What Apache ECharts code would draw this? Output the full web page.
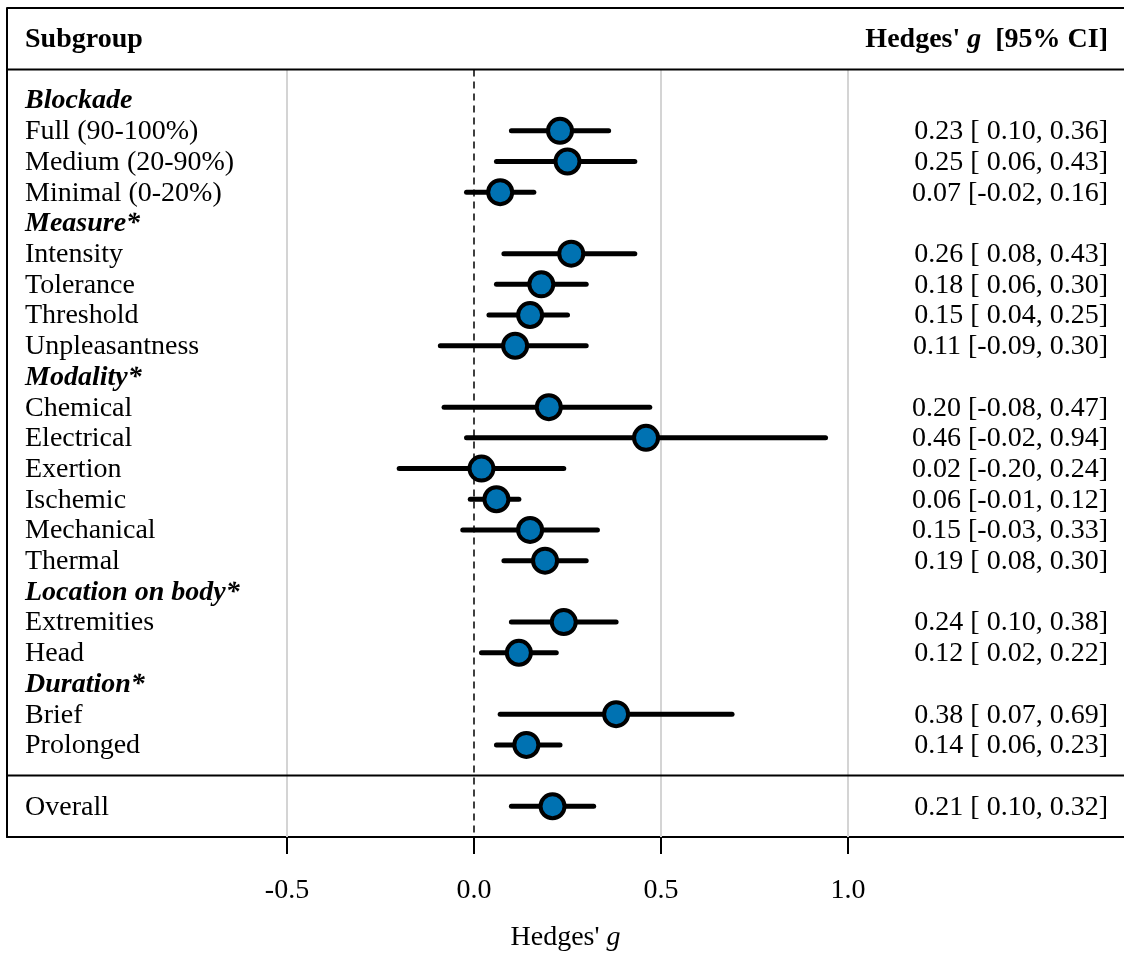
<!DOCTYPE html>
<html>
<head>
<meta charset="utf-8">
<script src="https://cdn.jsdelivr.net/npm/echarts@6/dist/echarts.min.js"></script>
<style>
  html, body { margin: 0; padding: 0; background: #fff; }
  #chart { width: 1124px; height: 954px; }
</style>
</head>
<body>
<div id="chart"></div>
<script>
// subgroup headings and how many rows sit under each
const headings = ["Blockade", "Measure*", "Modality*", "Location on body*", "Duration*"];
const groupSizes = [3, 4, 6, 2, 2];

const subgroups = [
  "Full (90-100%)", "Medium (20-90%)", "Minimal (0-20%)",
  "Intensity", "Tolerance", "Threshold", "Unpleasantness",
  "Chemical", "Electrical", "Exertion", "Ischemic", "Mechanical", "Thermal",
  "Extremities", "Head",
  "Brief", "Prolonged"
];
const estimates = [0.23, 0.25, 0.07, 0.26, 0.18, 0.15, 0.11, 0.20, 0.46, 0.02, 0.06, 0.15, 0.19, 0.24, 0.12, 0.38, 0.14];
const ciLower   = [0.10, 0.06, -0.02, 0.08, 0.06, 0.04, -0.09, -0.08, -0.02, -0.20, -0.01, -0.03, 0.08, 0.10, 0.02, 0.07, 0.06];
const ciUpper   = [0.36, 0.43, 0.16, 0.43, 0.30, 0.25, 0.30, 0.47, 0.94, 0.24, 0.12, 0.33, 0.30, 0.38, 0.22, 0.69, 0.23];

const overallLabel = "Overall";
const overallEstimate = 0.21;
const overallLower = 0.10;
const overallUpper = 0.32;

const xTicks = [-0.5, 0.0, 0.5, 1.0];
const gridValues = [-0.5, 0.5, 1.0];

const FONT = '"Liberation Serif", "Times New Roman", serif';
const FS = 28;
const xMin = (7 - 474) / 374;
const xMax = (1124 - 474) / 374;

function fmtCI(e, lo, hi) {
  const f = (v) => (v >= 0 ? " " : "") + v.toFixed(2);
  return e.toFixed(2) + " [" + f(lo) + ", " + hi.toFixed(2) + "]";
}

// lay out rows: heading, then its subgroups
const textRows = [];   // [row, left text, right text, kind]
const ciRows = [];     // [est, row, lo, hi]
let row = 0;
let k = 0;
headings.forEach((h, gi) => {
  textRows.push([row, h, "", "head"]);
  row++;
  for (let j = 0; j < groupSizes[gi]; j++, k++) {
    textRows.push([row, subgroups[k], fmtCI(estimates[k], ciLower[k], ciUpper[k]), "item"]);
    ciRows.push([estimates[k], row, ciLower[k], ciUpper[k]]);
    row++;
  }
});
const sepRow = row;          // line between subgroups and overall
const overallRow = row + 1;
textRows.push([overallRow, overallLabel, fmtCI(overallEstimate, overallLower, overallUpper), "item"]);
ciRows.push([overallEstimate, overallRow, overallLower, overallUpper]);
textRows.push([-2, "Subgroup", "{b|Hedges' }{bi|g}{b|  [95% CI]}", "header"]);

const chart = echarts.init(document.getElementById("chart"));

const option = {
  animation: false,
  backgroundColor: "#fff",
  grid: { left: 7, right: 0, top: 8, bottom: 117, outerBoundsMode: "none" },
  xAxis: {
    type: "value",
    min: xMin,
    max: xMax,
    axisLine: { show: true, onZero: false, lineStyle: { color: "#000", width: 2 } },
    axisTick: { show: true, customValues: xTicks, length: 17, lineStyle: { color: "#000", width: 2 } },
    axisLabel: {
      show: true,
      customValues: xTicks,
      formatter: (v) => v.toFixed(1),
      margin: 40,
      color: "#000",
      fontFamily: FONT,
      fontSize: FS
    },
    splitLine: { show: false },
    name: "{r|Hedges' }{i|g}",
    nameLocation: "middle",
    nameGap: 87,
    nameTextStyle: {
      rich: {
        r: { fontFamily: FONT, fontSize: FS, color: "#000" },
        i: { fontFamily: FONT, fontSize: FS, fontStyle: "italic", color: "#000" }
      }
    }
  },
  yAxis: {
    type: "value",
    inverse: true,
    min: -3,
    max: 24,
    axisLine: { show: true, onZero: false, lineStyle: { color: "#000", width: 2 } },
    axisTick: { show: false },
    axisLabel: { show: false },
    splitLine: { show: false }
  },
  series: [
    {
      // vertical reference lines
      type: "custom",
      z: 1,
      silent: true,
      data: gridValues.map((v) => [v, 0]).concat([[0, 1]]),
      renderItem: (params, api) => {
        const v = api.value(0);
        const dashed = api.value(1) === 1;
        const p1 = api.coord([v, -1]);
        const p2 = api.coord([v, 24]);
        return {
          type: "line",
          shape: { x1: p1[0], y1: p1[1], x2: p2[0], y2: p2[1] },
          style: dashed
            ? { stroke: "#000", lineWidth: 1.5, lineDash: [7, 5] }
            : { stroke: "#d4d4d4", lineWidth: 2 }
        };
      }
    },
    {
      // horizontal frame lines
      type: "custom",
      z: 2,
      silent: true,
      data: [[0, -3], [0, -1], [0, sepRow]],
      renderItem: (params, api) => {
        const r = api.value(1);
        const p1 = api.coord([xMin, r]);
        const p2 = api.coord([xMax, r]);
        return {
          type: "line",
          shape: { x1: p1[0], y1: p1[1], x2: p2[0], y2: p2[1] },
          style: { stroke: "#000", lineWidth: 2 }
        };
      }
    },
    {
      // confidence intervals
      type: "custom",
      z: 3,
      silent: true,
      data: ciRows,
      renderItem: (params, api) => {
        const r = api.value(1);
        const p1 = api.coord([api.value(2), r]);
        const p2 = api.coord([api.value(3), r]);
        return {
          type: "line",
          shape: { x1: p1[0], y1: p1[1], x2: p2[0], y2: p2[1] },
          style: { stroke: "#000", lineWidth: 5, lineCap: "round" }
        };
      }
    },
    {
      type: "scatter",
      z: 4,
      silent: true,
      symbol: "circle",
      symbolSize: 24,
      data: ciRows.map((d) => [d[0], d[1]]),
      itemStyle: { color: "#0072B2", borderColor: "#000", borderWidth: 4, opacity: 1 }
    },
    {
      // row labels and estimates
      type: "custom",
      z: 5,
      silent: true,
      data: textRows.map((t) => [0, t[0]]),
      renderItem: (params, api) => {
        const t = textRows[params.dataIndex];
        const y = api.coord([0, t[0]])[1] + 1;
        const xl = api.coord([xMin, t[0]])[0] + 18;
        const xr = api.coord([xMax, t[0]])[0] - 16;
        const kind = t[3];
        const leftFont =
          kind === "head" ? "italic bold " + FS + "px " + FONT :
          kind === "header" ? "bold " + FS + "px " + FONT :
          FS + "px " + FONT;
        const children = [
          {
            type: "text",
            style: { text: t[1], x: xl, y: y, align: "left", verticalAlign: "middle", fill: "#000", font: leftFont }
          }
        ];
        if (t[2]) {
          children.push({
            type: "text",
            style: kind === "header"
              ? {
                  text: t[2], x: xr, y: y, align: "right", verticalAlign: "middle",
                  rich: {
                    b: { fontFamily: FONT, fontSize: FS, fontWeight: "bold", fill: "#000" },
                    bi: { fontFamily: FONT, fontSize: FS, fontWeight: "bold", fontStyle: "italic", fill: "#000" }
                  }
                }
              : { text: t[2], x: xr, y: y, align: "right", verticalAlign: "middle", fill: "#000", font: FS + "px " + FONT }
          });
        }
        return { type: "group", children: children };
      }
    }
  ]
};

chart.setOption(option);
</script>
</body>
</html>
